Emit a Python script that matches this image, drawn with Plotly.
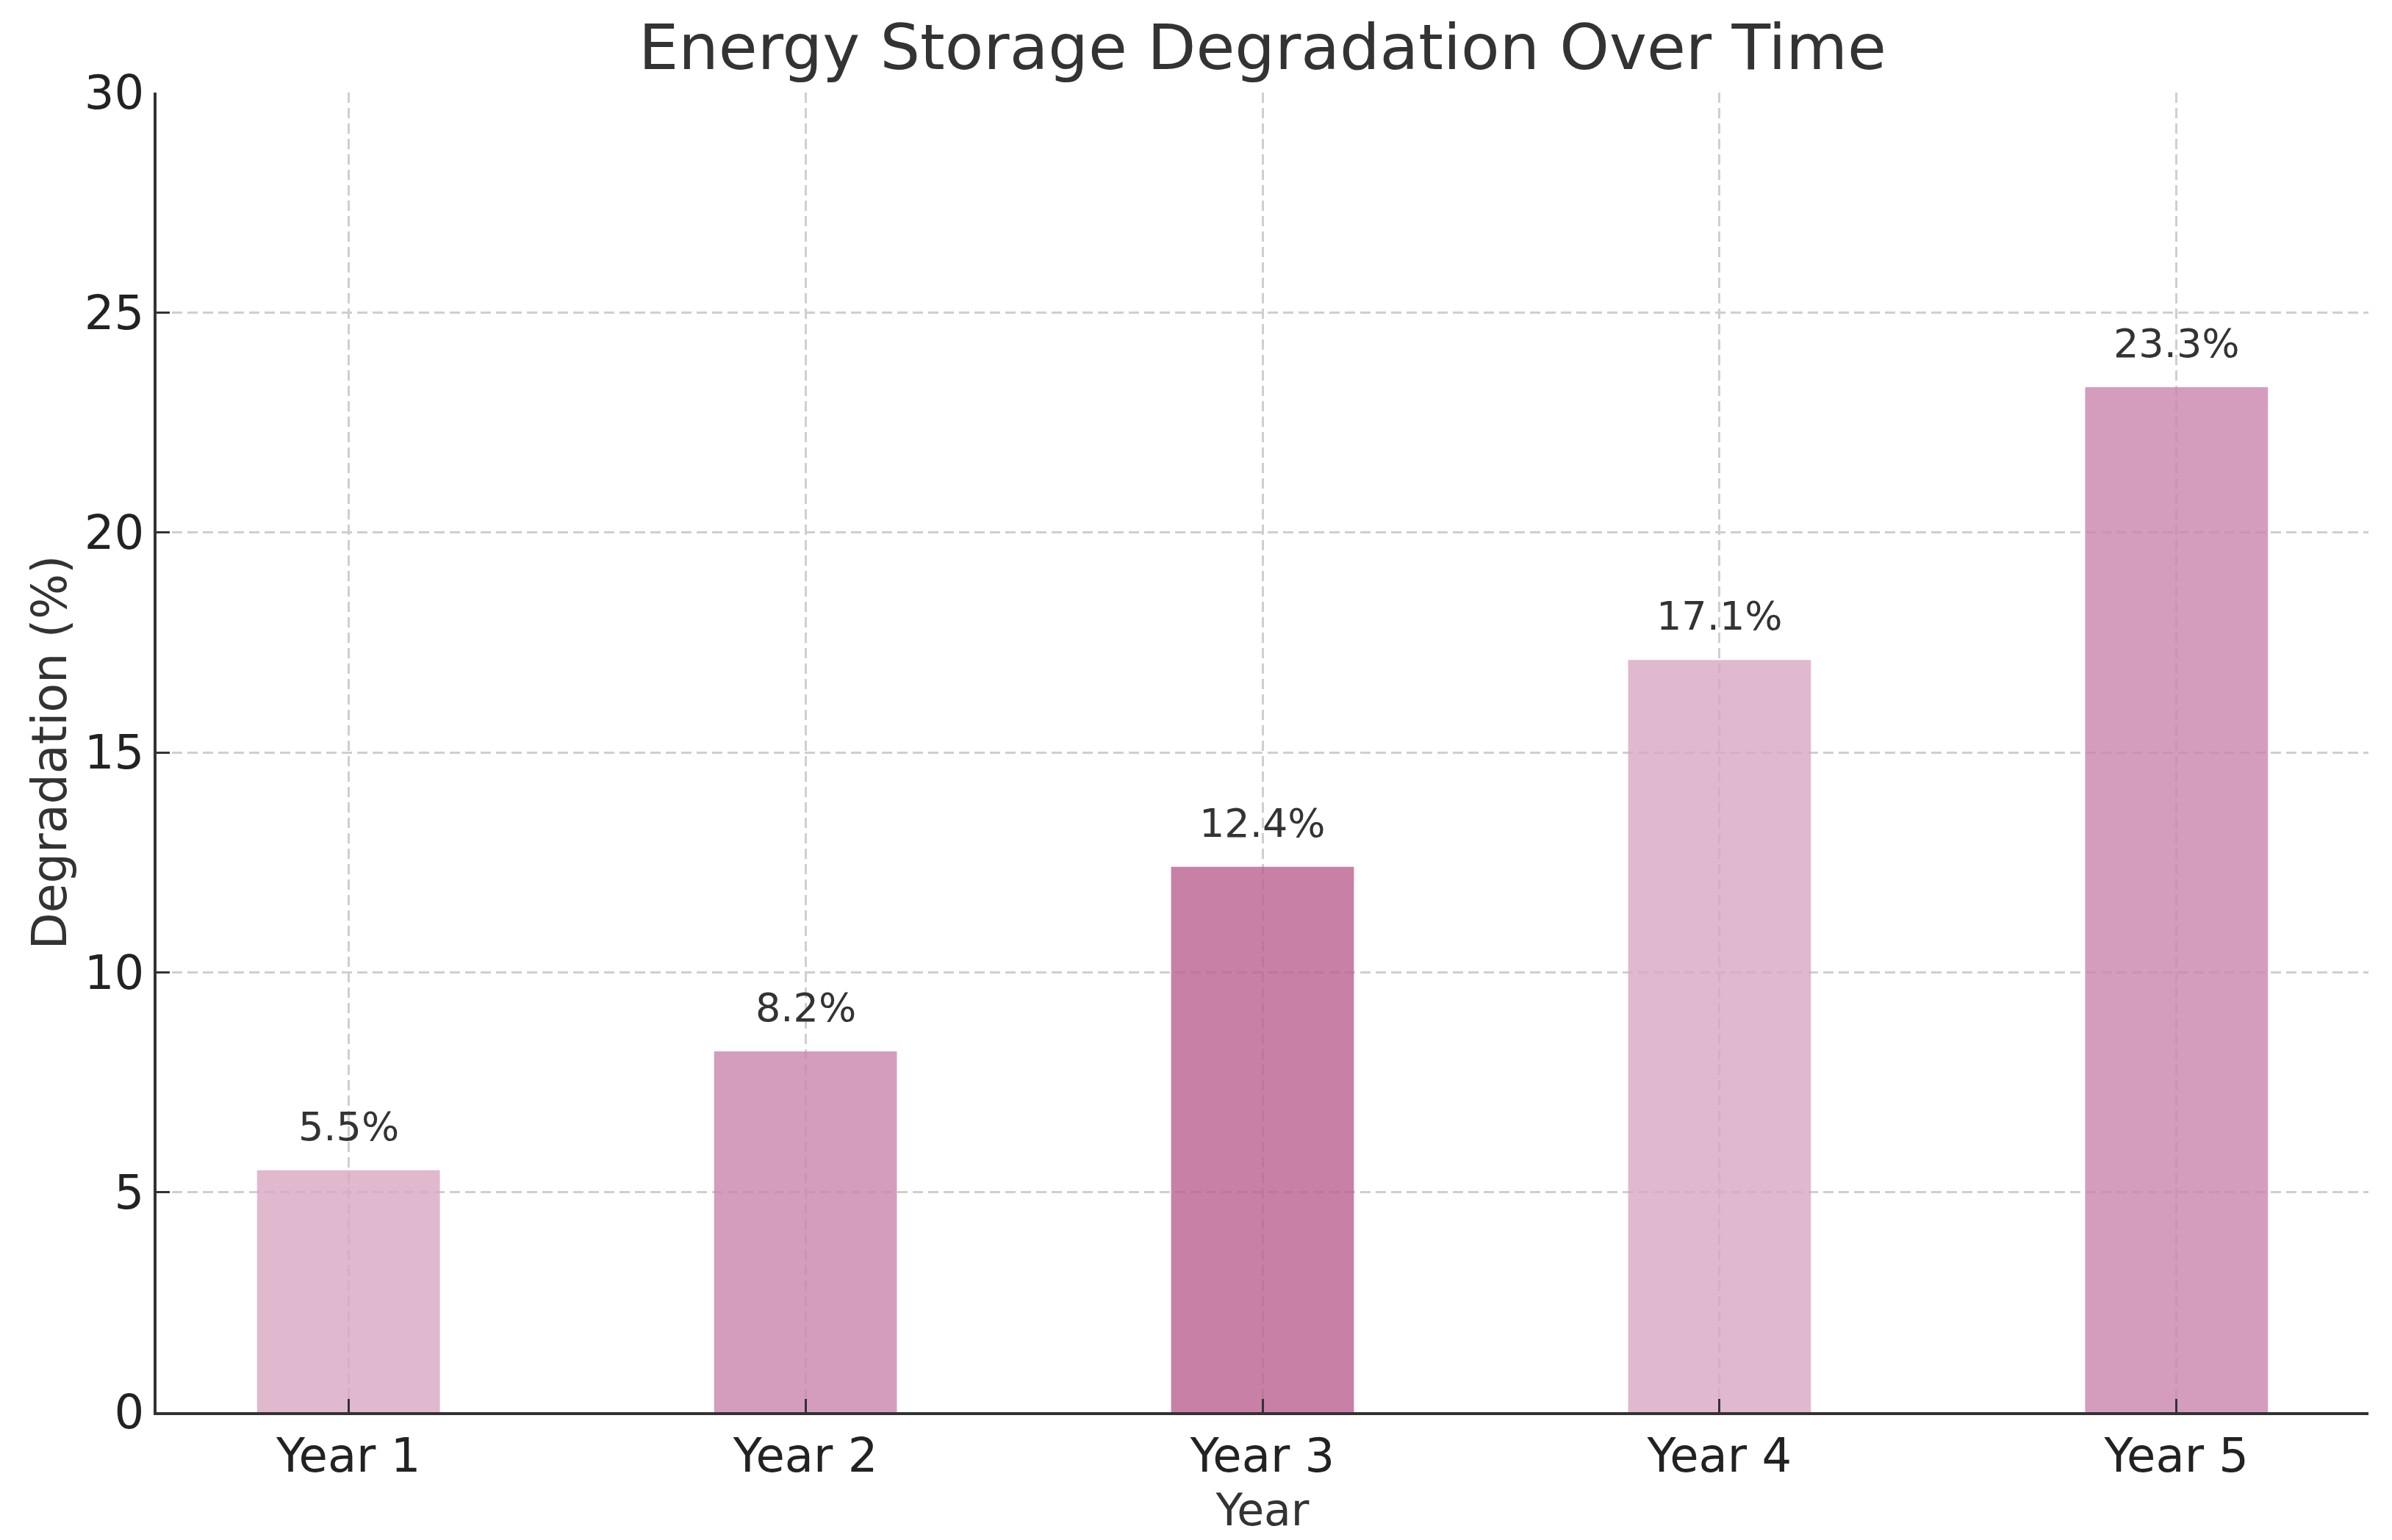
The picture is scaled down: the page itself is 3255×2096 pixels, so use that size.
import plotly.graph_objects as go

years = ["Year 1", "Year 2", "Year 3", "Year 4", "Year 5"]
degradation = [5.5, 8.2, 12.4, 17.1, 23.3]
bar_colors = ["rgba(216,168,195,0.8)", "rgba(201,133,173,0.8)", "rgba(186,96,144,0.8)",
              "rgba(216,168,195,0.8)", "rgba(201,133,173,0.8)"]
y_ticks = [0, 5, 10, 15, 20, 25, 30]

W, H = 3255, 2096
FONT = "DejaVu Sans"
TXT = "#333333"

fig = go.Figure()
fig.add_trace(go.Bar(
    x=years, y=degradation,
    marker=dict(color=bar_colors, line=dict(width=0)),
    width=0.4,
    hoverinfo="skip",
))

for yr, v in zip(years, degradation):
    fig.add_annotation(
        x=yr, y=v, text=f"{v}%", showarrow=False,
        yanchor="bottom", yshift=26,
        font=dict(family=FONT, size=54, color=TXT),
    )

fig.update_layout(
    width=W, height=H,
    margin=dict(l=205, r=40, t=118, b=182),
    paper_bgcolor="white", plot_bgcolor="white",
    showlegend=False,
    title=dict(text="Energy Storage Degradation Over Time",
               x=0.5, xanchor="center", xref="paper",
               y=1 - 56 / H, yanchor="middle",
               font=dict(family=FONT, size=86, color=TXT)),
    font=dict(family=FONT, color=TXT),
)

fig.update_xaxes(
    range=[-0.42, 4.42],
    showline=True, linecolor="#333333", linewidth=4,
    ticks="inside", ticklen=18, tickwidth=3, tickcolor="#333333",
    tickfont=dict(family=FONT, size=64, color="#222222"),
    showgrid=True, gridcolor="#cfcfcf", gridwidth=3, griddash="14px,7px",
    title=dict(text="Year", font=dict(family=FONT, size=60, color=TXT), standoff=18),
    mirror=False, zeroline=False,
)
fig.update_yaxes(
    range=[0, 30], tickvals=y_ticks,
    showline=True, linecolor="#333333", linewidth=4,
    ticks="inside", ticklen=18, tickwidth=3, tickcolor="#333333",
    tickfont=dict(family=FONT, size=64, color="#222222"),
    showgrid=True, gridcolor="#cfcfcf", gridwidth=3, griddash="14px,7px",
    title=dict(text="Degradation (%)", font=dict(family=FONT, size=65, color=TXT), standoff=4),
    mirror=False, zeroline=False,
)

fig.write_html("out.html")
